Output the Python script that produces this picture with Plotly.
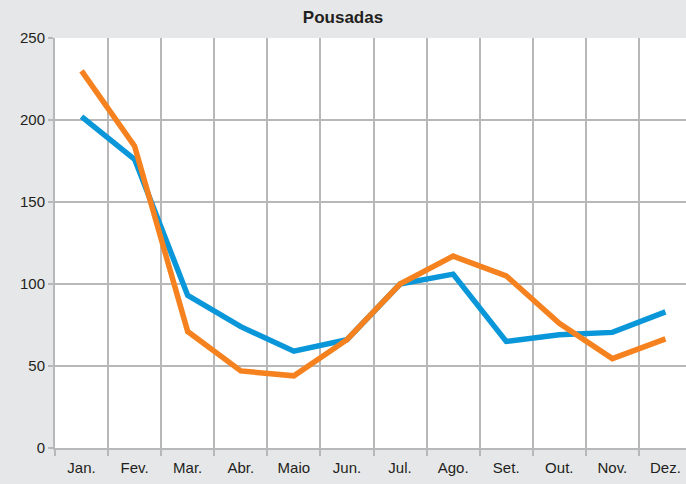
import plotly.graph_objects as go

months = ["Jan.", "Fev.", "Mar.", "Abr.", "Maio", "Jun.", "Jul.", "Ago.", "Set.", "Out.", "Nov.", "Dez."]
serie_azul = [202, 176, 93, 74, 59, 66, 100, 106, 65, 69, 70.5, 83]
serie_laranja = [230, 184, 71, 47, 44, 66, 100, 117, 105, 76, 54.5, 66.5]
y_ticks = [0, 50, 100, 150, 200, 250]

fig = go.Figure()
fig.add_trace(go.Scatter(x=months, y=serie_azul, mode="lines",
                         line=dict(color="#0a97d9", width=5.5), showlegend=False))
fig.add_trace(go.Scatter(x=months, y=serie_laranja, mode="lines",
                         line=dict(color="#f5821f", width=5.5), showlegend=False))

fig.update_layout(
    width=686, height=484,
    margin=dict(l=55, r=0, t=38, b=36, autoexpand=False),
    paper_bgcolor="#e6e7e8",
    plot_bgcolor="#ffffff",
    title=dict(text="<b>Pousadas</b>", x=0.5, xanchor="center", y=0.965, yanchor="middle",
               font=dict(family="Liberation Sans Narrow, Arial Narrow, Liberation Sans, Arial", size=17, color="#231f20")),
    font=dict(family="Liberation Sans, Arial, Helvetica", size=14, color="#231f20"),
)
fig.update_xaxes(
    type="category", tickson="boundaries", range=[-0.5, 11.387], automargin=False,
    showgrid=True, gridcolor="#b8b8b8", gridwidth=1.5,
    showline=True, linecolor="#b8b8b8", linewidth=2,
    ticks="outside", ticklen=6, tickcolor="#b8b8b8", tickwidth=1.5,
    ticklabelstandoff=5,
    tickfont=dict(size=15, color="#231f20"),
)
fig.update_yaxes(
    range=[0, 250], tickvals=y_ticks, automargin=False,
    showgrid=True, gridcolor="#b8b8b8", gridwidth=1.5,
    showline=True, linecolor="#b8b8b8", linewidth=2,
    ticks="outside", ticklen=5, tickcolor="#b8b8b8", tickwidth=1.5,
    zeroline=False, tickfont=dict(size=15, color="#231f20"),
)
fig.write_html("out.html", config={"displayModeBar": False},
               post_script="document.body.style.margin='0';document.body.style.overflow='hidden';")
